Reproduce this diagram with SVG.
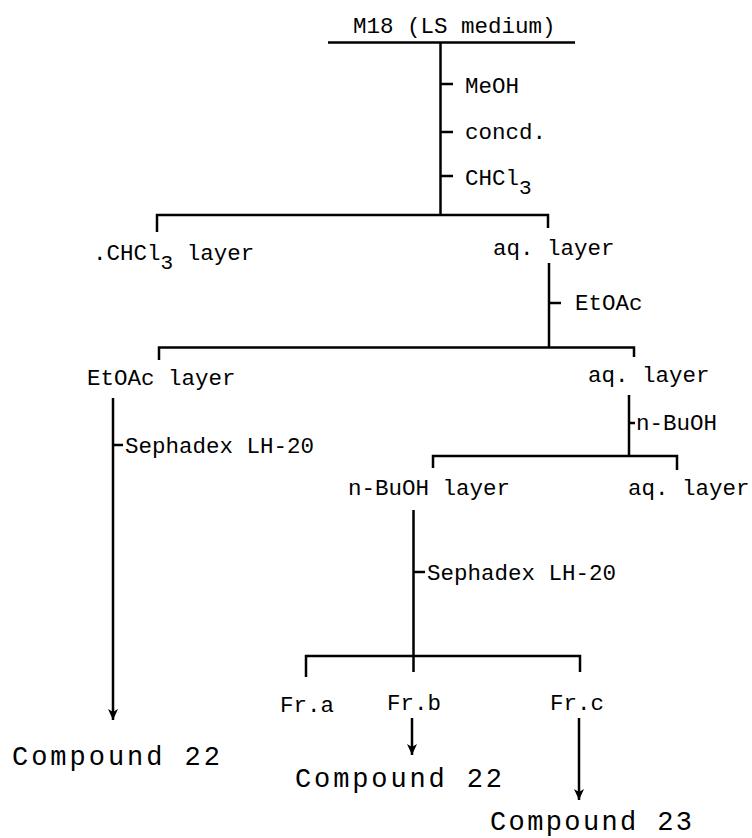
<svg xmlns="http://www.w3.org/2000/svg" width="752" height="838" viewBox="0 0 752 838">
<defs>
<style>
.lbl{font-family:"Liberation Mono","DejaVu Sans Mono",monospace;font-size:22.5px;fill:#000}
.cmp{font-family:"Liberation Mono","DejaVu Sans Mono",monospace;font-size:27px;fill:#000}
.ln{stroke:#000;stroke-width:2.5;fill:none;stroke-linecap:butt}
.sub{font-size:21px}
</style>
<marker id="arr" markerWidth="12" markerHeight="10" refX="11" refY="5" orient="auto" markerUnits="userSpaceOnUse" viewBox="0 0 12 10">
<path d="M0,0 L11,5 L0,10 L3,5 Z" fill="#000"/>
</marker>
</defs>
<rect width="752" height="838" fill="#fff"/>
<g id="connectors">
<path class="ln" d="M328 42.5 H575"/>
<path class="ln" d="M440.5 42.5 V215"/>
<path class="ln" d="M440.5 84 H453 M440.5 132 H453 M440.5 176 H453"/>
<path class="ln" d="M157 232 V215 H548 V228"/>
<path class="ln" d="M549 263 V347"/>
<path class="ln" d="M549 303 H561"/>
<path class="ln" d="M159 360 V347.5 H634 V357"/>
<path class="ln" d="M113 398 V720" marker-end="url(#arr)"/>
<path class="ln" d="M113 445 H123"/>
<path class="ln" d="M629 395 V456"/>
<path class="ln" d="M629 423 H635"/>
<path class="ln" d="M433 468 V456 H677 V470"/>
<path class="ln" d="M413.5 510 V672"/>
<path class="ln" d="M413.5 572 H425"/>
<path class="ln" d="M306 677 V656 H580 V672"/>
<path class="ln" d="M412 718 V755" marker-end="url(#arr)"/>
<path class="ln" d="M579 718 V800" marker-end="url(#arr)"/>
</g>
<g id="m18"><text class="lbl" x="353" y="33">M18 (LS medium)</text></g>
<g id="reagents1">
<text class="lbl" x="465" y="93">MeOH</text>
<text class="lbl" x="465" y="139">concd.</text>
<text class="lbl" x="465" y="185">CHCl<tspan class="sub" dy="9">3</tspan></text>
</g>
<g id="chcl3-layer"><text class="lbl" x="93" y="260">.CHCl<tspan class="sub" dy="9">3</tspan><tspan dy="-9"> layer</tspan></text></g>
<g id="aq-layer-1"><text class="lbl" x="493" y="255">aq. layer</text></g>
<g id="reagent-etoac"><text class="lbl" x="575" y="310">EtOAc</text></g>
<g id="etoac-layer"><text class="lbl" x="87" y="385">EtOAc layer</text></g>
<g id="aq-layer-2"><text class="lbl" x="588" y="382">aq. layer</text></g>
<g id="sephadex-1"><text class="lbl" x="125" y="453">Sephadex LH-20</text></g>
<g id="reagent-buoh"><text class="lbl" x="636" y="430">n-BuOH</text></g>
<g id="buoh-layer"><text class="lbl" x="348" y="495">n-BuOH layer</text></g>
<g id="aq-layer-3"><text class="lbl" x="628" y="495">aq. layer</text></g>
<g id="sephadex-2"><text class="lbl" x="427" y="580">Sephadex LH-20</text></g>
<g id="fr-a"><text class="lbl" x="280" y="712">Fr.a</text></g>
<g id="fr-b"><text class="lbl" x="387" y="710">Fr.b</text></g>
<g id="fr-c"><text class="lbl" x="550" y="710">Fr.c</text></g>
<g id="compound22-a"><text class="cmp" x="12" y="765" textLength="208" lengthAdjust="spacing">Compound 22</text></g>
<g id="compound22-b"><text class="cmp" x="295" y="787" textLength="207" lengthAdjust="spacing">Compound 22</text></g>
<g id="compound23"><text class="cmp" x="490" y="830" textLength="202" lengthAdjust="spacing">Compound 23</text></g>
</svg>
